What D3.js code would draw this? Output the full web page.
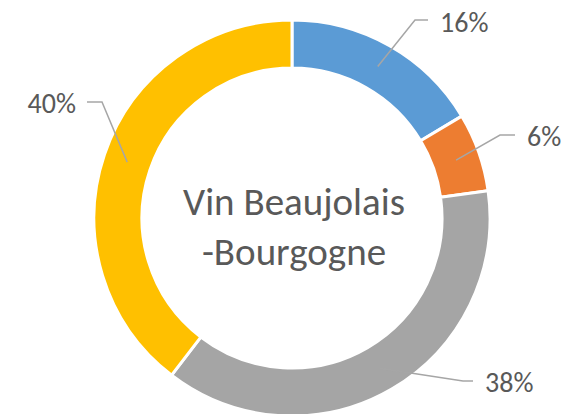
<!DOCTYPE html>
<html>
<head>
<meta charset="utf-8">
<script src="https://cdn.jsdelivr.net/npm/d3@7"></script>
<style>
  body { margin: 0; background: #fff; }
  svg { display: block; }
  text { font-family: Calibri, Carlito, Lato, sans-serif; fill: #595959; }
</style>
</head>
<body>
<script>
// data
let categories = ['A', 'B', 'C', 'D'];
let values = [16.4, 6.4, 37.6, 39.6];
let colors = ['#5B9BD5', '#ED7D31', '#A5A5A5', '#FFC000'];
let titleLines = ['Vin Beaujolais', '-Bourgogne'];

let width = 565, height = 414;
let cx = 292, cy = 218;
let outerR = 198, innerR = 150;

// where each data label sits (elbow of leader, end of leader, text)
let labelLayout = [
  { elbow: [415, 20], end: [428, 20], tx: 440, ty: 22, anchor: 'start' },
  { elbow: [500, 135], end: [515, 135], tx: 527, ty: 136, anchor: 'start' },
  { elbow: [463, 381], end: [473, 381], tx: 485, ty: 382, anchor: 'start' },
  { elbow: [102, 102], end: [87, 102], tx: 76, ty: 103, anchor: 'end' }
];

let svg = d3.select('body').append('svg')
    .attr('width', width)
    .attr('height', height);

let g = svg.append('g')
    .attr('transform', 'translate(' + cx + ',' + cy + ')');

let pie = d3.pie().sort(null).value(function(d){ return d; });
let arc = d3.arc().innerRadius(innerR).outerRadius(outerR);
let arcs = pie(values);

g.selectAll('path.slice')
    .data(arcs)
  .enter().append('path')
    .attr('class', 'slice')
    .attr('d', arc)
    .attr('fill', function(d, i){ return colors[i]; })
    .attr('stroke', '#fff')
    .attr('stroke-width', 3);

let total = d3.sum(values);

// leader lines
svg.selectAll('polyline.leader')
    .data(arcs)
  .enter().append('polyline')
    .attr('class', 'leader')
    .attr('points', function(d, i){
      let c = arc.centroid(d);
      let l = labelLayout[i];
      return [[c[0] + cx, c[1] + cy], l.elbow, l.end].map(function(p){ return p.join(','); }).join(' ');
    })
    .attr('fill', 'none')
    .attr('stroke', '#A6A6A6')
    .attr('stroke-width', 1.5);

svg.selectAll('text.lbl')
    .data(arcs)
  .enter().append('text')
    .attr('class', 'lbl')
    .attr('x', function(d, i){ return labelLayout[i].tx; })
    .attr('y', function(d, i){ return labelLayout[i].ty; })
    .attr('text-anchor', function(d, i){ return labelLayout[i].anchor; })
    .attr('dominant-baseline', 'central')
    .style('font-size', '28px')
    .text(function(d){ return Math.round(d.value / total * 100) + '%'; });

// centre title
let title = svg.append('text')
    .attr('text-anchor', 'middle')
    .style('font-size', '39px');

title.selectAll('tspan')
    .data(titleLines)
  .enter().append('tspan')
    .attr('x', cx + 2)
    .attr('y', function(d, i){ return 215 + i * 50; })
    .text(function(d){ return d; });
</script>
</body>
</html>
